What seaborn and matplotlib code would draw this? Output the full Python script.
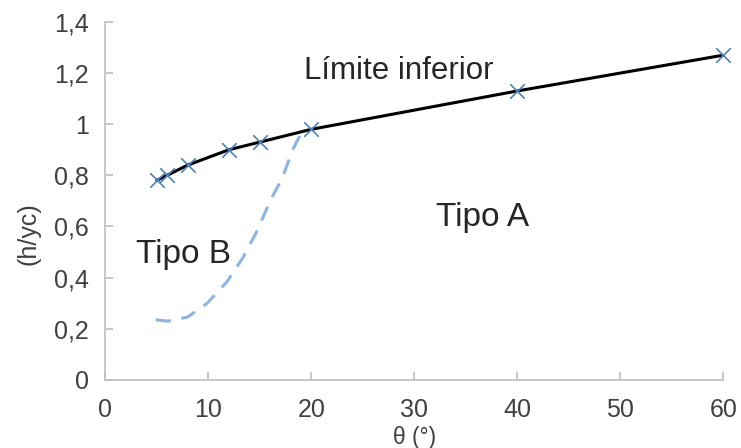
import matplotlib
matplotlib.use("Agg")
import matplotlib.pyplot as plt
import seaborn as sns
import pandas as pd

# Lower-limit curve (black line with x markers)
limit_theta = [5, 6, 8, 12, 15, 20, 40, 60]
limit_h = [0.78, 0.80, 0.84, 0.90, 0.93, 0.98, 1.13, 1.27]

# Dashed Tipo B boundary
b_theta = [4.9, 6.1, 8.0, 9.9, 11.8, 13.4, 14.8, 16.0, 17.2, 18.2, 18.9, 19.6]
b_h = [0.235, 0.23, 0.246, 0.30, 0.383, 0.48, 0.587, 0.70, 0.79, 0.90, 0.955, 0.975]

x_ticks = [0, 10, 20, 30, 40, 50, 60]
y_ticks = [0, 0.2, 0.4, 0.6, 0.8, 1.0, 1.2, 1.4]
y_tick_labels = ["0", "0,2", "0,4", "0,6", "0,8", "1", "1,2", "1,4"]

sns.set_style("ticks")
plt.rcParams["font.family"] = ["Liberation Sans", "DejaVu Sans"]

fig = plt.figure(figsize=(7.41, 4.48), dpi=100)
ax = fig.add_axes([0.142, 0.152, 0.834, 0.799])

df_b = pd.DataFrame({"theta": b_theta, "h": b_h})
df_l = pd.DataFrame({"theta": limit_theta, "h": limit_h})

sns.lineplot(data=df_b, x="theta", y="h", ax=ax, color="#8DB4E2",
             linestyle=(0, (5, 3.5)), linewidth=2.2, sort=False)
sns.lineplot(data=df_l, x="theta", y="h", ax=ax, color="black",
             linewidth=2.2, sort=False)
sns.scatterplot(data=df_l, x="theta", y="h", ax=ax, marker="x",
                color="#4F81BD", s=110, linewidth=1.2, zorder=5,
                clip_on=False)

ax.set_xlim(0, 60)
ax.set_ylim(0, 1.4)
ax.set_xticks(x_ticks)
ax.set_yticks(y_ticks)
ax.set_yticklabels(y_tick_labels)
ax.tick_params(axis="both", direction="in", length=6, width=1.2,
               color="#BFBFBF", labelsize=18, labelcolor="#404040", pad=12)
ax.tick_params(axis="x", pad=13)

for s in ["top", "right"]:
    ax.spines[s].set_visible(False)
for s in ["left", "bottom"]:
    ax.spines[s].set_color("#BFBFBF")
    ax.spines[s].set_linewidth(1.2)

ax.set_xlabel("θ (°)", fontsize=16.5, color="#404040")
ax.set_ylabel("(h/yc)", fontsize=18, color="#404040")
ax.xaxis.set_label_coords(0.5, -0.13)
ax.yaxis.set_label_coords(-0.105, 0.41)

ax.text(28.5, 1.21, "Límite inferior", fontsize=22.5, color="#262626",
        ha="center", va="center")
ax.text(36.6, 0.634, "Tipo A", fontsize=24, color="#262626",
        ha="center", va="center")
ax.text(7.6, 0.489, "Tipo B", fontsize=24, color="#262626",
        ha="center", va="center")

fig.savefig("out.png", dpi=100)
